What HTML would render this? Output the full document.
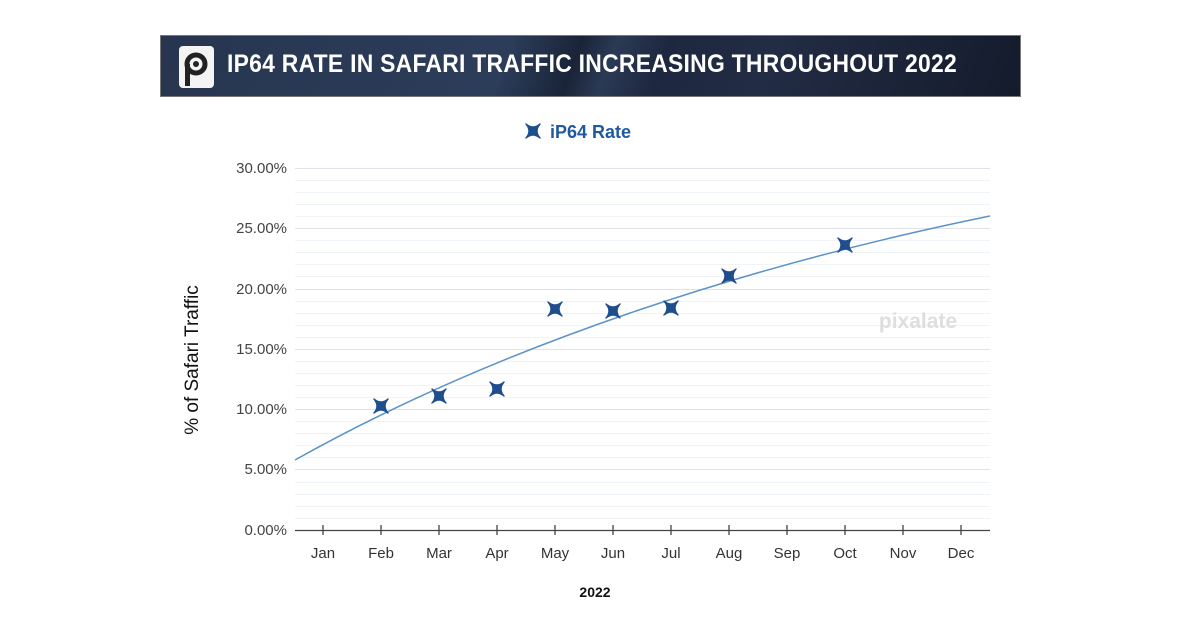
<!DOCTYPE html>
<html><head><meta charset="utf-8"><style>
body{margin:0;width:1200px;height:622px;background:#fff;overflow:hidden;font-family:"Liberation Sans",sans-serif;}
.ban{position:absolute;left:160px;top:35px;width:861px;height:62px;border:1px solid #777;box-sizing:border-box;
background:linear-gradient(110deg,#27354f 0%,#2c3d5a 40%,#1a2438 48%,#2b3a55 52%,#1d2740 58%,#222c44 70%,#141b2c 100%);}
.ban .t{position:absolute;left:66px;top:14px;color:#fff;font-weight:bold;font-size:25px;letter-spacing:0.3px;transform:scaleX(0.915);transform-origin:left;white-space:nowrap}
.logo{position:absolute;left:18px;top:10px;width:35px;height:42px;background:#f4f4f4;border-radius:4px}
</style></head><body>
<div class="ban"><div class="logo"><svg width="35" height="42"><circle cx="17" cy="18" r="9" fill="none" stroke="#222" stroke-width="5"/><rect x="6" y="18" width="5" height="22" fill="#222"/><circle cx="17" cy="18" r="3" fill="#222"/></svg></div><div class="t">IP64 RATE IN SAFARI TRAFFIC INCREASING THROUGHOUT 2022</div></div>
<svg width="1200" height="622" style="position:absolute;left:0;top:0">
<g stroke="#f0f3f7" stroke-width="1">
<line x1="295" x2="990" y1="180.5" y2="180.5"/><line x1="295" x2="990" y1="192.5" y2="192.5"/><line x1="295" x2="990" y1="204.5" y2="204.5"/><line x1="295" x2="990" y1="216.5" y2="216.5"/>
<line x1="295" x2="990" y1="240.5" y2="240.5"/><line x1="295" x2="990" y1="252.5" y2="252.5"/><line x1="295" x2="990" y1="264.5" y2="264.5"/><line x1="295" x2="990" y1="276.5" y2="276.5"/>
<line x1="295" x2="990" y1="301.5" y2="301.5"/><line x1="295" x2="990" y1="313.5" y2="313.5"/><line x1="295" x2="990" y1="325.5" y2="325.5"/><line x1="295" x2="990" y1="337.5" y2="337.5"/>
<line x1="295" x2="990" y1="361.5" y2="361.5"/><line x1="295" x2="990" y1="373.5" y2="373.5"/><line x1="295" x2="990" y1="385.5" y2="385.5"/><line x1="295" x2="990" y1="397.5" y2="397.5"/>
<line x1="295" x2="990" y1="421.5" y2="421.5"/><line x1="295" x2="990" y1="433.5" y2="433.5"/><line x1="295" x2="990" y1="445.5" y2="445.5"/><line x1="295" x2="990" y1="457.5" y2="457.5"/>
<line x1="295" x2="990" y1="482.5" y2="482.5"/><line x1="295" x2="990" y1="494.5" y2="494.5"/><line x1="295" x2="990" y1="506.5" y2="506.5"/><line x1="295" x2="990" y1="518.5" y2="518.5"/>
</g>
<g stroke="#dfe4ec" stroke-width="1">
<line x1="295" x2="990" y1="168.5" y2="168.5"/><line x1="295" x2="990" y1="228.5" y2="228.5"/><line x1="295" x2="990" y1="289.5" y2="289.5"/><line x1="295" x2="990" y1="349.5" y2="349.5"/><line x1="295" x2="990" y1="409.5" y2="409.5"/><line x1="295" x2="990" y1="469.5" y2="469.5"/>
</g>
<g font-size="15" fill="#444" text-anchor="end">
<text x="287" y="173">30.00%</text><text x="287" y="233">25.00%</text><text x="287" y="294">20.00%</text><text x="287" y="354">15.00%</text><text x="287" y="414">10.00%</text><text x="287" y="474">5.00%</text><text x="287" y="535">0.00%</text>
</g>
<line x1="295" x2="990" y1="530.5" y2="530.5" stroke="#444" stroke-width="1.3"/>
<g stroke="#444" stroke-width="1.3">
<line x1="323" x2="323" y1="525" y2="535"/><line x1="381" x2="381" y1="525" y2="535"/><line x1="439" x2="439" y1="525" y2="535"/><line x1="497" x2="497" y1="525" y2="535"/><line x1="555" x2="555" y1="525" y2="535"/><line x1="613" x2="613" y1="525" y2="535"/><line x1="671" x2="671" y1="525" y2="535"/><line x1="729" x2="729" y1="525" y2="535"/><line x1="787" x2="787" y1="525" y2="535"/><line x1="845" x2="845" y1="525" y2="535"/><line x1="903" x2="903" y1="525" y2="535"/><line x1="961" x2="961" y1="525" y2="535"/>
</g>
<g font-size="15" fill="#333" text-anchor="middle">
<text x="323" y="558">Jan</text><text x="381" y="558">Feb</text><text x="439" y="558">Mar</text><text x="497" y="558">Apr</text><text x="555" y="558">May</text><text x="613" y="558">Jun</text><text x="671" y="558">Jul</text><text x="729" y="558">Aug</text><text x="787" y="558">Sep</text><text x="845" y="558">Oct</text><text x="903" y="558">Nov</text><text x="961" y="558">Dec</text>
</g>
<text x="595" y="597" font-size="14" font-weight="bold" text-anchor="middle" fill="#111">2022</text>
<text transform="translate(198,360) rotate(-90)" font-size="19" text-anchor="middle" fill="#111">% of Safari Traffic</text>
<text x="918" y="328" font-size="21" font-weight="bold" text-anchor="middle" fill="#dedede">pixalate</text>
<path d="M295,460 C500,345 750,265 990,216" fill="none" stroke="#5b93c9" stroke-width="1.5"/>
<defs><path id="x" d="M-7,-7 Q0,-1 7,-7 Q1,0 7,7 Q0,1 -7,7 Q-1,0 -7,-7Z" fill="#1f4e8c" stroke="#1f4e8c" stroke-width="1.4" stroke-linejoin="round"/></defs>
<use href="#x" x="381" y="406"/><use href="#x" x="439" y="396"/><use href="#x" x="497" y="389"/><use href="#x" x="555" y="309"/><use href="#x" x="613" y="311"/><use href="#x" x="671" y="308"/><use href="#x" x="729" y="276"/><use href="#x" x="845" y="245"/>
<use href="#x" x="533" y="131"/>
<text x="550" y="138" font-size="18" font-weight="bold" fill="#1f5aa0">iP64 Rate</text>
</svg>
</body></html>
